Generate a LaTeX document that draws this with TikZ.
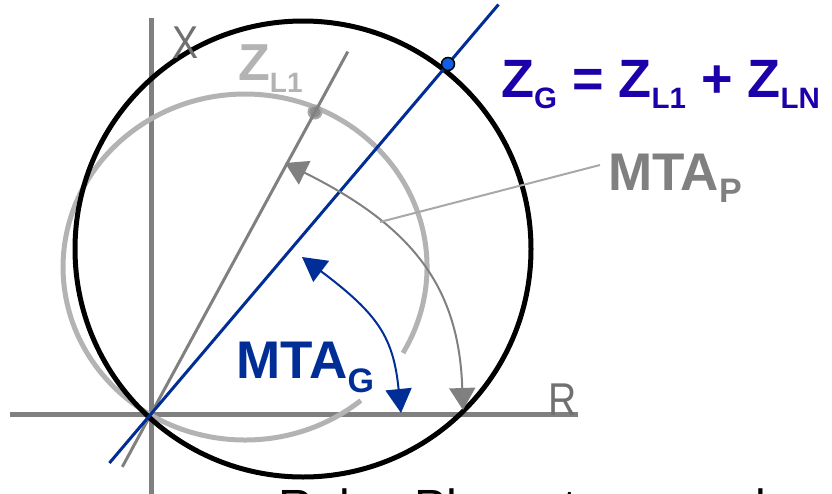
\documentclass[tikz,border=0pt]{standalone}
\usepackage{fontspec}
\setmainfont{Liberation Sans}
\usetikzlibrary{arrows.meta,calc}
\definecolor{axisgray}{RGB}{128,128,128}
\definecolor{labgray}{RGB}{112,112,112}
\definecolor{lightgray2}{RGB}{179,179,179}
\definecolor{leadgray}{RGB}{168,168,168}
\definecolor{lineblue}{RGB}{0,45,150}
\definecolor{formblue}{RGB}{30,0,170}
\definecolor{dotblue}{RGB}{20,95,225}
\newcommand\lowsub[3]{\raisebox{-#1pt}{\fontsize{#2}{#2}\selectfont #3}}
\begin{document}
\begin{tikzpicture}[x=1pt,y=-1pt,
  axisline/.style={draw=axisgray,line width=5pt},
  lbl/.style={inner sep=0pt,anchor=base west},
  garrow/.style={draw=axisgray,line width=2pt,{Triangle[length=22pt,width=26pt]}-{Triangle[length=22pt,width=26pt]}},
  barrow/.style={draw=lineblue,line width=2pt,{Triangle[length=24pt,width=26pt]}-{Triangle[length=24pt,width=26pt]}}]
\useasboundingbox (0,0) rectangle (832,493);
% key points
\coordinate (O) at (151,414);
\coordinate (axL) at (10,414);
\coordinate (axR) at (578,414);
\coordinate (axT) at (151,18);
\coordinate (axB) at (151,500);
% axes
\draw[axisline] (axL) -- (axR);
\draw[axisline] (axT) -- (axB);
% light gray circle (Z_L1 mho), with gap near MTA_G
\draw[lightgray2,line width=5pt] (360.8,400.5) arc[start angle=50.5,end angle=389.8,x radius=182,y radius=173];
% Z_L1 line and dot
\node[circle,fill=axisgray!90,draw=leadgray,line width=2pt,minimum size=13pt,inner sep=0pt] (zl) at (315,112) {};
\draw[axisgray,line width=3pt] ($(O)!-0.175!(zl.center)$) -- ($(O)!1.2!(zl.center)$);
% black circle
\draw[black,line width=5pt] (303,249) circle[radius=228];
% blue line and dot
\coordinate (Dc) at (448,64);
\draw[lineblue,line width=3pt] ($(O)!-0.14!(Dc)$) -- ($(O)!1.17!(Dc)$);
\node[circle,fill=dotblue,draw=black,line width=1.5pt,minimum size=13pt,inner sep=0pt] (zg) at (Dc) {};
% MTA_P arc arrow
\coordinate (pA) at (285,163);
\coordinate (pB) at (463,410);
\draw[garrow] (pA) .. controls (415,227.5) and (459,289) .. (pB);
% MTA_G arc arrow
\coordinate (gA) at (302,257);
\coordinate (gB) at (401,413);
\draw[barrow] (gA) .. controls (378.5,314.4) and (393.4,337.6) .. (gB);
% leader for MTA_P
\coordinate (ld1) at (380,222);
\coordinate (ld2) at (600,165);
\draw[leadgray,line width=2pt] (ld1) -- (ld2);
% labels
\node[lbl,text=labgray,font=\fontsize{46}{46}\selectfont] (xl) at (172,58) {\scalebox{0.85}[1]{X}};
\node[lbl,text=labgray,font=\fontsize{46}{46}\selectfont] (rl) at (548,415) {\scalebox{0.85}[1]{R}};
\node[lbl,text=lightgray2,font=\bfseries\fontsize{52}{52}\selectfont] (zll) at (238,80) {Z\lowsub{12}{28}{L1}};
\node[lbl,text=formblue,font=\bfseries\fontsize{54}{54}\selectfont] (form) at (501,97) {Z\lowsub{11}{29.5}{G} = Z\lowsub{11}{29.5}{L1} + Z\lowsub{11}{29.5}{LN}};
\node[lbl,text=axisgray,font=\bfseries\fontsize{53}{53}\selectfont] (mtap) at (608,190) {MTA\lowsub{12}{34}{P}};
\node[lbl,text=lineblue,font=\bfseries\fontsize{53}{53}\selectfont] (mtag) at (236.5,378) {MTA\lowsub{14}{34}{G}};
\node[lbl,text=black,font=\fontsize{48}{48}\selectfont] (cap) at (278,523) {Relay Phase to ground};
\end{tikzpicture}
\end{document}
